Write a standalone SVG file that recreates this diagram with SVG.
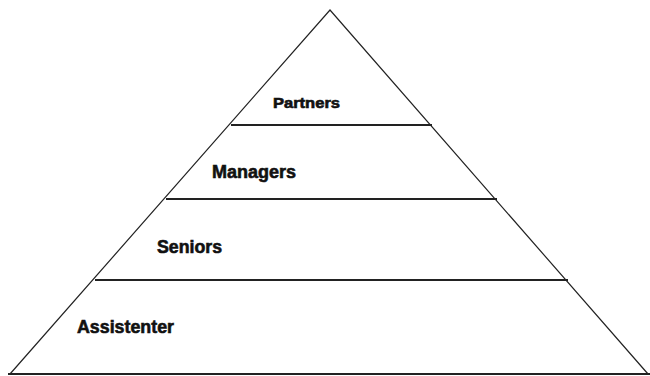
<svg xmlns="http://www.w3.org/2000/svg" width="650" height="376" viewBox="0 0 650 376">
  <style>
    .edge { stroke: #222; stroke-width: 1.2; fill: none; }
    .tier { stroke: #222; stroke-width: 2; fill: none; }
    .lbl { font-family: "Liberation Sans", Arial, sans-serif; font-weight: bold; font-size: 18px; fill: #111; stroke: #111; stroke-width: 0.6; }
    .small { font-size: 14px; }
  </style>
  <rect width="650" height="376" fill="#fff"/>
  <!-- pyramid outline and tier dividers -->
  <g id="connectors">
    <path class="edge" d="M10,374 L330,10 L648,374"/>
    <line class="tier" x1="8" y1="374" x2="650" y2="374"/>
    <line class="tier" x1="231" y1="125" x2="432" y2="125"/>
    <line class="tier" x1="166" y1="199" x2="497" y2="199"/>
    <line class="tier" x1="95" y1="280" x2="568" y2="280"/>
  </g>
  <g id="partners"><text class="lbl small" x="273" y="108" textLength="67" lengthAdjust="spacingAndGlyphs">Partners</text></g>
  <g id="managers"><text class="lbl" x="212" y="178" textLength="84" lengthAdjust="spacingAndGlyphs">Managers</text></g>
  <g id="seniors"><text class="lbl" x="157" y="253" textLength="65" lengthAdjust="spacingAndGlyphs">Seniors</text></g>
  <g id="assistenter"><text class="lbl" x="77" y="333" textLength="97" lengthAdjust="spacingAndGlyphs">Assistenter</text></g>
</svg>
